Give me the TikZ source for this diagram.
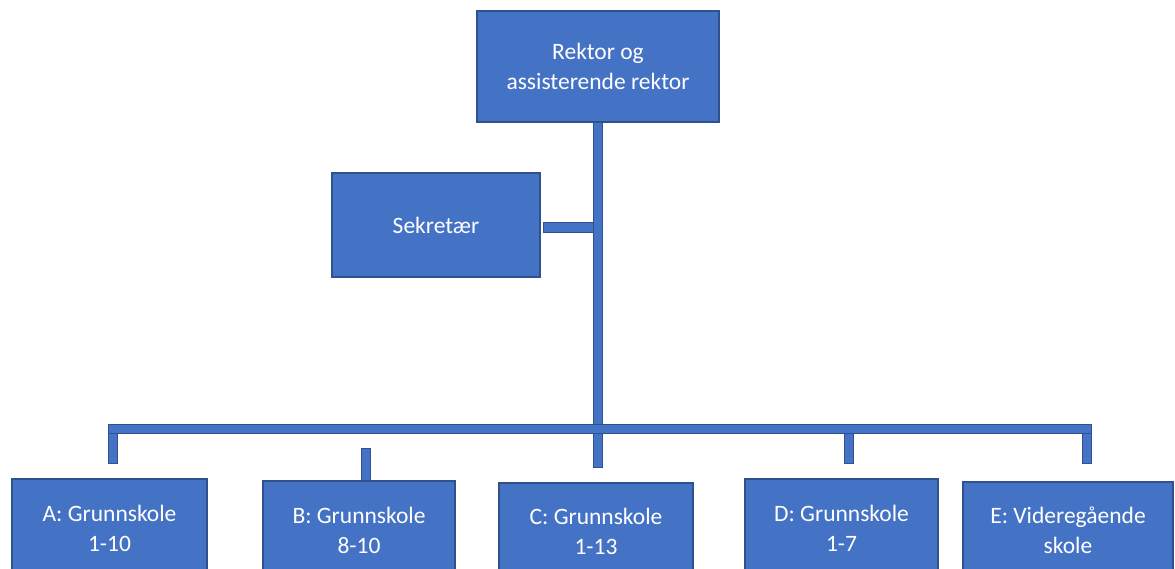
\documentclass[tikz,border=0pt]{standalone}
\usepackage{fontspec}
\setmainfont{Carlito}
\usetikzlibrary{calc}
\definecolor{boxblue}{HTML}{4472C4}
\definecolor{edgeblue}{HTML}{2F528F}
\begin{document}
\begin{tikzpicture}[x=1pt,y=-1pt,
  box/.style={draw=edgeblue, fill=boxblue, line width=1.2pt, text=white, align=center, inner sep=0pt,
    font=\fontsize{23.5pt}{30pt}\selectfont},
  bar/.style={draw=edgeblue, fill=boxblue, line width=1pt}]
\useasboundingbox (0,0) rectangle (1175,569);
\clip (0,0) rectangle (1175,569);
% boxes
\node[box, minimum width=242pt, minimum height=111pt] (rektor) at (598,66.5) {Rektor og\\assisterende rektor};
\node[box, minimum width=208pt, minimum height=104pt] (sek) at (436,225) {Sekretær};
\node[box, minimum width=195pt, minimum height=98pt] (A) at (109.5,528) {A: Grunnskole\\1-10};
\node[box, minimum width=192pt, minimum height=98pt] (B) at (359,530) {B: Grunnskole\\8-10};
\node[box, minimum width=194pt, minimum height=96pt] (C) at (596,531) {C: Grunnskole\\1-13};
\node[box, minimum width=193pt, minimum height=98pt] (D) at (841.5,528) {D: Grunnskole\\1-7};
\node[box, minimum width=210pt, minimum height=96pt] (E) at (1068,530) {E: Videregående\\skole};
% free ends
\coordinate (cend) at (598,467);
\coordinate (busL) at (108,424);
\coordinate (busR) at (1091,433);
\coordinate (aend) at (117,463);
\coordinate (dend) at (853,463);
\coordinate (eend) at (1091,463);
% connectors
\draw[bar] ($(rektor.south)+(-4.5,0)$) rectangle ($(cend)+(4.5,0)$);
\draw[bar] ($(sek.east)+(3,-2)$) rectangle ($(rektor.south |- sek.east)+(-4.5,8)$);
\draw[bar] (busL) rectangle (busR);
\draw[bar] (busL |- busR) rectangle (aend);
\draw[bar] ($(dend)+(-9,-30)$) rectangle (dend);
\draw[bar] ($(eend)+(-9,-30)$) rectangle (eend);
\draw[bar] ($(B.north)+(2,0)$) rectangle ($(B.north)+(11,-32)$);
\end{tikzpicture}
\end{document}
